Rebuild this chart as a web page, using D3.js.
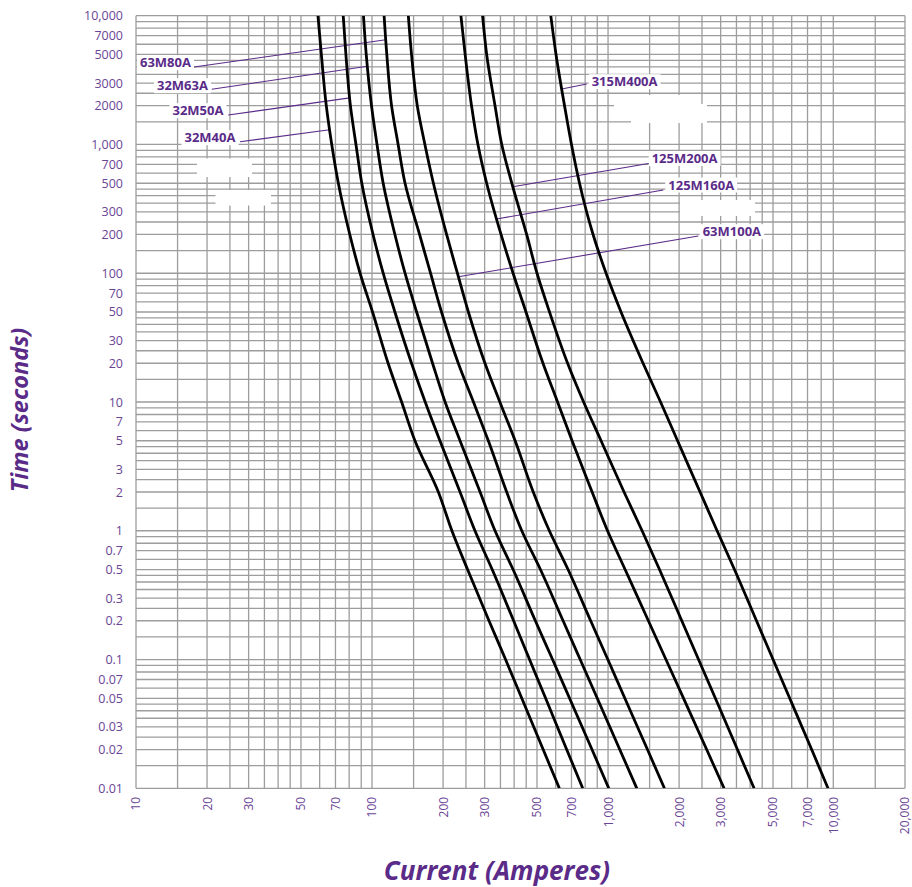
<!DOCTYPE html>
<html>
<head>
<meta charset="utf-8">
<script src="https://cdn.jsdelivr.net/npm/d3@7"></script>
<style>
  html, body { margin: 0; padding: 0; background: #fff; }
  svg { display: block; }
</style>
</head>
<body>
<svg id="chart" width="912" height="887"></svg>
<script>
// Pre-arcing time (s) at which each fuse current is read
const times = [10000, 5000, 2000, 1000, 500, 200, 100, 50, 20, 10, 5, 2, 1, 0.5, 0.2, 0.1, 0.05, 0.02, 0.01];

// Prospective current (A) for each fuse link at the times above
const amps32M40A   = [59, 61, 64, 67.5, 72, 80.5, 89, 100.5, 117, 133.5, 152, 191, 218, 254, 313, 368, 431, 531, 622];
const amps32M50A   = [75.5, 77.5, 81, 85.5, 90.5, 101, 111.5, 125, 147, 168, 194, 236, 273, 323, 398, 465, 544, 668, 781];
const amps32M63A   = [92, 94.5, 99.5, 105, 111.5, 125, 138, 154.5, 180.5, 204, 236, 287, 332, 396, 492, 582, 687, 855, 1007];
const amps63M80A   = [112.5, 115.5, 121, 129, 138, 159, 177, 197, 232, 269, 311, 372, 431, 517, 645, 762, 900, 1121, 1324];
const amps63M100A  = [142.5, 147, 155.5, 167.5, 182, 207, 230, 256, 301, 348, 404, 482, 564, 677, 844, 998, 1178, 1469, 1733];
const amps125M160A = [238, 248, 264, 281, 306, 352, 396, 449, 530, 611, 704, 856, 995, 1181, 1482, 1759, 2089, 2617, 3101];
const amps125M200A = [294, 306, 332, 354.5, 391, 452, 500, 565, 674, 788, 934, 1169, 1394, 1652, 2053, 2418, 2849, 3534, 4156];
const amps315M400A = [572, 602, 654, 700, 757, 864, 981, 1135, 1407, 1669, 1970, 2454, 2897, 3433, 4255, 5003, 5884, 7290, 9070];

const fuseNames  = ["32M40A", "32M50A", "32M63A", "63M80A", "63M100A", "125M160A", "125M200A", "315M400A"];
const fuseSeries = [amps32M40A, amps32M50A, amps32M63A, amps63M80A, amps63M100A, amps125M160A, amps125M200A, amps315M400A];
// time (s) on each curve where its callout line meets it
const calloutTimes = [1300, 2300, 4050, 6500, 94, 264, 470, 2700];

// Axis ticks
const xTickValues = [10, 20, 30, 50, 70, 100, 200, 300, 500, 700, 1000, 2000, 3000, 5000, 7000, 10000, 20000];
const xTickLabels = ["10", "20", "30", "50", "70", "100", "200", "300", "500", "700", "1,000", "2,000", "3,000", "5,000", "7,000", "10,000", "20,000"];
const yTickValues = [10000, 7000, 5000, 3000, 2000, 1000, 700, 500, 300, 200, 100, 70, 50, 30, 20, 10, 7, 5, 3, 2, 1, 0.7, 0.5, 0.3, 0.2, 0.1, 0.07, 0.05, 0.03, 0.02, 0.01];
const yTickLabels = ["10,000", "7000", "5000", "3000", "2000", "1,000", "700", "500", "300", "200", "100", "70", "50", "30", "20", "10", "7", "5", "3", "2", "1", "0.7", "0.5", "0.3", "0.2", "0.1", "0.07", "0.05", "0.03", "0.02", "0.01"];

// Grid rulings inside every decade
const gridMultiples = [1, 1.5, 2, 2.5, 3, 3.5, 4, 4.5, 5, 6, 7, 8, 9];
const xDecades = [10, 100, 1000];
const yDecades = [0.01, 0.1, 1, 10, 100, 1000];

// ---------------------------------------------------------------
const PURPLE = "#5a2b88";
const TICK_PURPLE = "#6a4596";
const GRID = "#9d9d9d";

const svg = d3.select("#chart");
const plotLeft = 136, plotRight = 905, plotTop = 15.7, plotBottom = 788.3;

// The sheet's current axis is compressed between 8,000 A and 10,000 A
const x = d3.scaleLog()
  .domain([10, 8000, 10000, 20000])
  .range([plotLeft, 821.2, 833.3, plotRight]);
const y = d3.scaleLog()
  .domain([0.01, 10000])
  .range([plotBottom, plotTop]);

// ---- grid ----
const xGrid = [];
xDecades.forEach(d => gridMultiples.forEach(m => {
  const v = +(d * m).toPrecision(6);
  if (v !== 9000) xGrid.push(v);
}));
xGrid.push(10000, 15000, 20000);

const yGrid = [];
yDecades.forEach(d => gridMultiples.forEach(m => yGrid.push(+(d * m).toPrecision(6))));
yGrid.push(10000);

const grid = svg.append("g").attr("stroke", GRID).attr("stroke-width", 1.3);
grid.selectAll("line.v").data(xGrid).join("line")
  .attr("class", "v")
  .attr("x1", d => x(d)).attr("x2", d => x(d))
  .attr("y1", plotTop).attr("y2", plotBottom);
grid.selectAll("line.h").data(yGrid).join("line")
  .attr("class", "h")
  .attr("x1", plotLeft).attr("x2", plotRight)
  .attr("y1", d => y(d)).attr("y2", d => y(d));

// blank plates on the sheet
const plates = [
  [197, 158.5, 55, 18.5],
  [215.5, 190, 55.5, 15.5],
  [614, 95, 75, 17],
  [631, 104, 76, 19],
  [680, 200, 75, 16]
];
svg.append("g").selectAll("rect").data(plates).join("rect")
  .attr("x", d => d[0]).attr("y", d => d[1])
  .attr("width", d => d[2]).attr("height", d => d[3])
  .attr("fill", "#fff");

// ---- axes ----
const yAxis = d3.axisLeft(y)
  .tickValues(yTickValues)
  .tickFormat((d, i) => yTickLabels[i])
  .tickSize(0)
  .tickPadding(13);
const gy = svg.append("g").attr("transform", `translate(${plotLeft},0)`).call(yAxis);
gy.select(".domain").remove();
gy.selectAll("text")
  .attr("fill", TICK_PURPLE)
  .style("font-family", "'Open Sans', sans-serif")
  .style("font-size", "12.5px");

const xAxis = d3.axisBottom(x)
  .tickValues(xTickValues)
  .tickFormat((d, i) => xTickLabels[i])
  .tickSize(0);
const gx = svg.append("g").attr("transform", `translate(0,${plotBottom})`).call(xAxis);
gx.select(".domain").remove();
gx.selectAll("text")
  .attr("transform", "rotate(-90)")
  .attr("x", -8.5)
  .attr("y", 0)
  .attr("dy", "0.33em")
  .style("text-anchor", "end")
  .attr("fill", TICK_PURPLE)
  .style("font-family", "'Open Sans', sans-serif")
  .style("font-size", "12px");

// ---- axis titles ----
svg.append("text")
  .attr("x", 497).attr("y", 880)
  .attr("text-anchor", "middle")
  .attr("fill", PURPLE)
  .style("font-family", "'Open Sans', sans-serif")
  .style("font-weight", 700)
  .style("font-style", "italic")
  .style("font-size", "26px")
  .text("Current (Amperes)");
svg.append("text")
  .attr("transform", "translate(20,410) rotate(-90)")
  .attr("text-anchor", "middle")
  .attr("dy", "0.35em")
  .attr("fill", PURPLE)
  .style("font-family", "'Open Sans', sans-serif")
  .style("font-weight", 700)
  .style("font-style", "italic")
  .style("font-size", "23.5px")
  .text("Time (seconds)");

// ---- curves ----
function curvePoints(series) {
  return times.map((t, i) => [series[i], t]);
}
// current on a curve at time t (log-log interpolation)
function currentAt(series, t) {
  for (let i = 0; i < times.length - 1; i++) {
    const t0 = times[i], t1 = times[i + 1];
    if (t <= t0 && t >= t1) {
      const f = (Math.log(t) - Math.log(t0)) / (Math.log(t1) - Math.log(t0));
      return Math.exp(Math.log(series[i]) + f * (Math.log(series[i + 1]) - Math.log(series[i])));
    }
  }
  return series[0];
}

// callouts: label position (left x, centre y) and line start
const callouts = [
  { tx: 184.5, ty: 137.7, sx: 240, sy: 141.7 },
  { tx: 172.5, ty: 110.7, sx: 228.3, sy: 115 },
  { tx: 157, ty: 85.7, sx: 211.7, sy: 89.3 },
  { tx: 140, ty: 62.7, sx: 194, sy: 67 },
  { tx: 702.7, ty: 231.7, sx: 698.3, sy: 236 },
  { tx: 668.3, ty: 185, sx: 663.3, sy: 190 },
  { tx: 651.7, ty: 158.5, sx: 650, sy: 163.3 },
  { tx: 591.7, ty: 81.7, sx: 586.7, sy: 84 }
];

const callG = svg.append("g");
fuseNames.forEach((name, i) => {
  const c = callouts[i];
  const ex = x(currentAt(fuseSeries[i], calloutTimes[i]));
  const ey = y(calloutTimes[i]);
  callG.append("line")
    .attr("x1", c.sx).attr("y1", c.sy)
    .attr("x2", ex).attr("y2", ey)
    .attr("stroke", PURPLE).attr("stroke-width", 1.1);
  const g = callG.append("g");
  const t = g.append("text")
    .attr("x", c.tx).attr("y", c.ty)
    .attr("dy", "0.36em")
    .attr("fill", PURPLE)
    .style("font-family", "'Open Sans', sans-serif")
    .style("font-weight", 700)
    .style("font-size", "13px")
    .text(name);
  const bb = t.node().getBBox();
  g.insert("rect", "text")
    .attr("x", bb.x - 3).attr("y", c.ty - 7.5)
    .attr("width", bb.width + 6).attr("height", 15)
    .attr("fill", "#fff");
});

svg.append("defs").append("clipPath").attr("id", "plot")
  .append("rect").attr("x", plotLeft).attr("y", plotTop)
  .attr("width", plotRight - plotLeft).attr("height", plotBottom - plotTop);

const line = d3.line()
  .x(d => x(d[0]))
  .y(d => y(d[1]))
  .curve(d3.curveMonotoneY);

svg.append("g").attr("clip-path", "url(#plot)")
  .selectAll("path").data(fuseSeries).join("path")
  .attr("d", s => line(curvePoints(s)))
  .attr("fill", "none")
  .attr("stroke", "#000")
  .attr("stroke-width", 2.8)
  .attr("stroke-linejoin", "round");
</script>
</body>
</html>
